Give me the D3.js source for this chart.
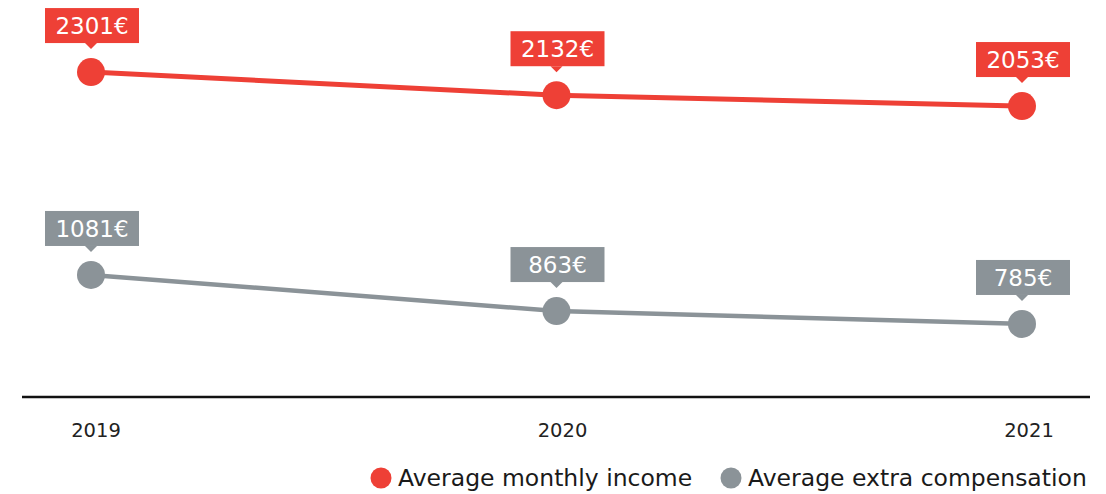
<!DOCTYPE html>
<html>
<head>
<meta charset="utf-8">
<script src="https://cdn.jsdelivr.net/npm/d3@7"></script>
<style>
  html, body { margin: 0; padding: 0; background: #fff; }
  svg { display: block; }
  text { font-family: "DejaVu Sans", "Open Sans", sans-serif; }
</style>
</head>
<body>
<svg id="chart" width="1106" height="494"></svg>
<script>
const years = ["2019", "2020", "2021"];
const incomeValues = [2301, 2132, 2053];
const extraValues = [1081, 863, 785];
const seriesNames = ["Average monthly income", "Average extra compensation"];
const seriesColors = ["#ee4036", "#8b9398"];

const svg = d3.select("#chart");

const x = d3.scalePoint().domain(years).range([91, 1022]);
const xLab = d3.scalePoint().domain(years).range([96, 1029]);
const yIncome = d3.scaleLinear().domain([0, 2500]).range([387.3, 44.8]);
const yExtra = d3.scaleLinear().domain([0, 2500]).range([453.9, 40.1]);

const series = [
  { name: seriesNames[0], color: seriesColors[0], values: incomeValues, stroke: 5, y: yIncome },
  { name: seriesNames[1], color: seriesColors[1], values: extraValues, stroke: 4.5, y: yExtra }
];

// axis line
svg.append("line")
  .attr("x1", 22).attr("x2", 1090)
  .attr("y1", 397).attr("y2", 397)
  .attr("stroke", "#111").attr("stroke-width", 2.5);

// year labels
svg.append("g").selectAll("text").data(years).join("text")
  .attr("x", d => xLab(d))
  .attr("y", 437)
  .attr("text-anchor", "middle")
  .attr("font-size", 19.5)
  .attr("fill", "#222")
  .text(d => d);

series.forEach(s => {
  const pts = years.map((yr, i) => ({ year: yr, value: s.values[i] }));
  const line = d3.line().x(d => x(d.year)).y(d => s.y(d.value));
  const g = svg.append("g");
  g.append("path")
    .attr("d", line(pts))
    .attr("fill", "none")
    .attr("stroke", s.color)
    .attr("stroke-width", s.stroke);
  g.selectAll("circle").data(pts).join("circle")
    .attr("cx", d => x(d.year))
    .attr("cy", d => s.y(d.value))
    .attr("r", 14)
    .attr("fill", s.color);

  const lab = g.selectAll("g.lab").data(pts).join("g")
    .attr("class", "lab")
    .attr("transform", d => `translate(${x(d.year)},${s.y(d.value)})`);
  const bw = 94, bh = 35, gap = 29;
  lab.append("rect")
    .attr("x", -bw / 2 + 1)
    .attr("y", -gap - bh)
    .attr("width", bw)
    .attr("height", bh)
    .attr("fill", s.color);
  lab.append("path")
    .attr("d", `M-6,${-gap} L0,${-gap + 6} L6,${-gap} Z`)
    .attr("fill", s.color);
  lab.append("text")
    .attr("x", 1)
    .attr("y", -gap - 9)
    .attr("text-anchor", "middle")
    .attr("font-size", 23)
    .attr("fill", "#fff")
    .text(d => d.value + "€");
});

// legend
const legend = svg.append("g");
const legX = [381, 731];
series.forEach((s, i) => {
  legend.append("circle")
    .attr("cx", legX[i]).attr("cy", 478).attr("r", 10.5)
    .attr("fill", s.color);
  legend.append("text")
    .attr("x", legX[i] + 17).attr("y", 486)
    .attr("font-size", 23.5)
    .attr("fill", "#1a1a1a")
    .text(s.name);
});
</script>
</body>
</html>
